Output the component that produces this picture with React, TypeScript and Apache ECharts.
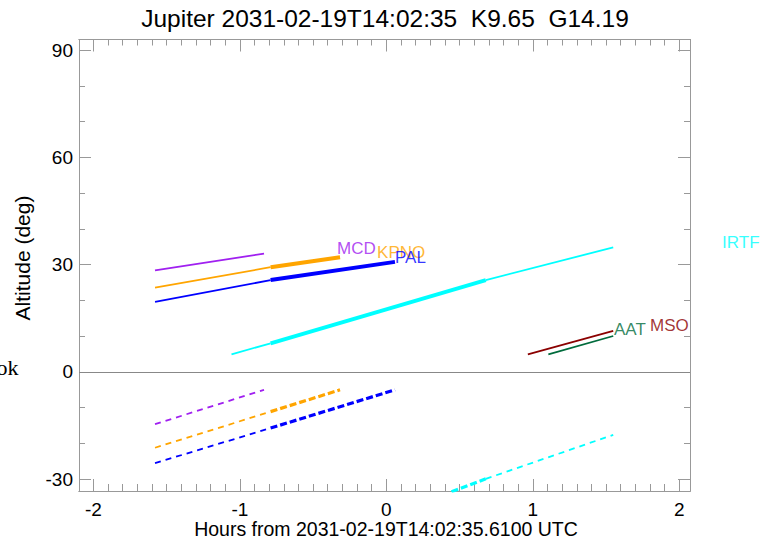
import React, { useEffect, useRef } from "react";
import * as echarts from "echarts";

const TITLE = "Jupiter 2031-02-19T14:02:35  K9.65  G14.19";
const X_TITLE = "Hours from 2031-02-19T14:02:35.6100 UTC";
const Y_TITLE = "Altitude (deg)";
const SIDE_NOTE = "ok";

const X_RANGE = [-2.098, 2.073];
const Y_RANGE = [-33.3, 93.0];
const X_MAJOR_TICKS = [-2, -1, 0, 1, 2];
const X_MINOR_TICKS: number[] = [];
for (let i = -20; i <= 20; i++) {
  if (i % 10 !== 0) X_MINOR_TICKS.push(i / 10);
}
const Y_MAJOR_TICKS = [-30, 0, 30, 60, 90];
const Y_MINOR_TICKS = [-20, -10, 10, 20, 40, 50, 70, 80];

// Tracks: [hours, altitude deg]; thick = observable window
const MCD_UP = [[-1.579, 28.4], [-0.835, 33.1]];
const MCD_DOWN = [[-1.579, -14.6], [-0.835, -5.0]];
const KPNO_UP_THIN = [[-1.579, 23.6], [-0.79, 29.3]];
const KPNO_UP_THICK = [[-0.79, 29.3], [-0.316, 32.1]];
const KPNO_DOWN_THIN = [[-1.579, -21.2], [-0.79, -11.1]];
const KPNO_DOWN_THICK = [[-0.79, -11.1], [-0.316, -5.0]];
const PAL_UP_THIN = [[-1.579, 19.6], [-0.79, 25.7]];
const PAL_UP_THICK = [[-0.79, 25.7], [0.059, 30.8]];
const PAL_DOWN_THIN = [[-1.579, -25.5], [-0.79, -15.7]];
const PAL_DOWN_THICK = [[-0.79, -15.7], [0.059, -5.0]];
const IRTF_UP_THIN_A = [[-1.057, 4.95], [-0.79, 8.0]];
const IRTF_UP_THICK = [[-0.79, 8.0], [0.679, 25.7]];
const IRTF_UP_THIN_B = [[0.679, 25.7], [1.549, 34.85]];
const IRTF_DOWN_THICK = [[0.445, -33.5], [0.679, -29.9]];
const IRTF_DOWN_THIN = [[0.679, -29.9], [1.549, -17.6]];
const MSO_UP = [[0.966, 4.95], [1.549, 11.46]];
const AAT_UP = [[1.106, 4.95], [1.549, 10.06]];

const LABEL_NAMES = ["MCD", "KPNO", "PAL", "AAT", "MSO", "IRTF"];
const LABEL_X = [-0.337, -0.063, 0.059, 1.554, 1.8, 2.292];
const LABEL_Y = [34.4, 33.4, 32.1, 11.9, 13.1, 36.3];

const PURPLE = "#A020F0";
const ORANGE = "#FFA500";
const BLUE = "#0000FF";
const CYAN = "#00FFFF";
const DARKRED = "#8B0000";
const GREEN = "#006B3C";
const LABEL_COLORS = [PURPLE, ORANGE, BLUE, GREEN, DARKRED, CYAN];

const AXIS_GRAY = "#999999";
const FONT = "'Liberation Sans', Arial, Helvetica, sans-serif";

const THIN = 1.8;
const THICK = 4;
const THICK_DASHED = 3.2;

function line(data: number[][], color: string, width: number, dashed: boolean) {
  return {
    type: "line",
    xAxisIndex: 0,
    yAxisIndex: 0,
    data,
    symbol: "none",
    silent: true,
    clip: true,
    lineStyle: {
      color,
      width,
      type: dashed ? (width > 2 ? [7, 3] : [6, 5]) : "solid",
      cap: "butt",
    },
  };
}

function xAxisDef(position: string, ticks: number[], len: number, labels: boolean) {
  return {
    type: "value",
    position,
    min: X_RANGE[0],
    max: X_RANGE[1],
    axisLine: { show: true, onZero: false, lineStyle: { color: AXIS_GRAY, width: 1 } },
    axisTick: { show: true, inside: true, length: len, customValues: ticks, lineStyle: { color: AXIS_GRAY, width: 1 } },
    axisLabel: labels
      ? { show: true, customValues: ticks, fontSize: 19, color: "#000", fontFamily: FONT, margin: 9 }
      : { show: false },
    splitLine: { show: false },
  };
}

function yAxisDef(position: string, ticks: number[], len: number, labels: boolean) {
  return {
    type: "value",
    position,
    min: Y_RANGE[0],
    max: Y_RANGE[1],
    axisLine: { show: true, onZero: false, lineStyle: { color: AXIS_GRAY, width: 1 } },
    axisTick: { show: true, inside: true, length: len, customValues: ticks, lineStyle: { color: AXIS_GRAY, width: 1 } },
    axisLabel: labels
      ? { show: true, customValues: ticks, fontSize: 19, color: "#000", fontFamily: FONT, margin: 6 }
      : { show: false },
    splitLine: { show: false },
  };
}

export default function App() {
  const ref = useRef<HTMLDivElement>(null);
  useEffect(() => {
    if (!ref.current) return;
    const chart = echarts.init(ref.current, undefined, { renderer: "svg" });
    const series: any[] = [
      line(MCD_UP, PURPLE, THIN, false),
      line(MCD_DOWN, PURPLE, THIN, true),
      line(KPNO_UP_THIN, ORANGE, THIN, false),
      line(KPNO_UP_THICK, ORANGE, THICK, false),
      line(KPNO_DOWN_THIN, ORANGE, THIN, true),
      line(KPNO_DOWN_THICK, ORANGE, THICK_DASHED, true),
      line(PAL_UP_THIN, BLUE, THIN, false),
      line(PAL_UP_THICK, BLUE, THICK, false),
      line(PAL_DOWN_THIN, BLUE, THIN, true),
      line(PAL_DOWN_THICK, BLUE, THICK_DASHED, true),
      line(IRTF_UP_THIN_A, CYAN, THIN, false),
      line(IRTF_UP_THICK, CYAN, THICK, false),
      line(IRTF_UP_THIN_B, CYAN, THIN, false),
      line(IRTF_DOWN_THICK, CYAN, THICK_DASHED, true),
      line(IRTF_DOWN_THIN, CYAN, THIN, true),
      line(MSO_UP, DARKRED, THIN, false),
      line(AAT_UP, GREEN, THIN, false),
      {
        type: "line",
        xAxisIndex: 0,
        yAxisIndex: 0,
        data: [],
        silent: true,
        markLine: {
          silent: true,
          symbol: ["none", "none"],
          label: { show: false },
          lineStyle: { color: "#888888", width: 1, type: "solid" },
          data: [{ yAxis: 0 }],
        },
      },
      {
        type: "scatter",
        xAxisIndex: 0,
        yAxisIndex: 0,
        clip: false,
        silent: true,
        symbol: "circle",
        symbolSize: 0,
        itemStyle: { color: "transparent" },
        data: LABEL_NAMES.map((n, i) => ({
          name: n,
          value: [LABEL_X[i], LABEL_Y[i]],
          label: {
            show: true,
            formatter: n,
            position: "right",
            distance: 0,
            color: LABEL_COLORS[i],
            fontSize: 17,
            fontFamily: FONT,
            align: "left",
            verticalAlign: "middle",
          },
        })),
      },
    ];
    chart.setOption({
      animation: false,
      backgroundColor: "#ffffff",
      grid: { left: 79, top: 39.5, width: 611, height: 451.5, containLabel: false },
      xAxis: [
        xAxisDef("bottom", X_MAJOR_TICKS, 12, true),
        xAxisDef("bottom", X_MINOR_TICKS, 7, false),
        xAxisDef("top", X_MAJOR_TICKS, 12, false),
        xAxisDef("top", X_MINOR_TICKS, 6, false),
      ],
      yAxis: [
        yAxisDef("left", Y_MAJOR_TICKS, 12, true),
        yAxisDef("left", Y_MINOR_TICKS, 6, false),
        yAxisDef("right", Y_MAJOR_TICKS, 12, false),
        yAxisDef("right", Y_MINOR_TICKS, 6, false),
      ],
      series,
      graphic: [
        {
          type: "text",
          x: 385,
          y: 18,
          style: { text: TITLE, fontSize: 24.5, fontFamily: FONT, fill: "#000", textAlign: "center", textVerticalAlign: "middle" },
        },
        {
          type: "text",
          x: 386,
          y: 529,
          style: { text: X_TITLE, fontSize: 19.5, fontFamily: FONT, fill: "#000", textAlign: "center", textVerticalAlign: "middle" },
        },
        {
          type: "text",
          x: 22,
          y: 258,
          rotation: Math.PI / 2,
          style: { text: Y_TITLE, fontSize: 21, fontFamily: FONT, fill: "#000", textAlign: "center", textVerticalAlign: "middle" },
        },
        {
          type: "text",
          x: 18.5,
          y: 367,
          style: { text: SIDE_NOTE, fontSize: 22, fontFamily: "serif", fill: "#000", textAlign: "right", textVerticalAlign: "middle" },
        },
      ],
    });
    return () => chart.dispose();
  }, []);
  return (
    <div
      ref={ref}
      style={{ position: "fixed", left: 0, top: 0, width: 775, height: 541, background: "#fff" }}
    />
  );
}
